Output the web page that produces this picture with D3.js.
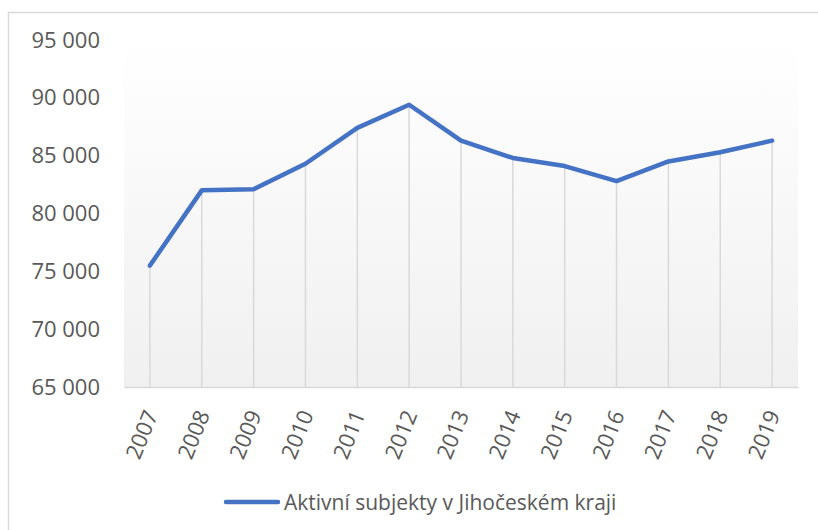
<!DOCTYPE html>
<html><head><meta charset="utf-8">
<script src="https://cdn.jsdelivr.net/npm/d3@7"></script>
<style>body{margin:0;background:#fff;}svg{display:block;}</style>
</head><body>
<svg id="c" width="818" height="530"></svg>
<script>
const years = ["2007","2008","2009","2010","2011","2012","2013","2014","2015","2016","2017","2018","2019"];
const values = [75500, 82000, 82100, 84300, 87400, 89400, 86300, 84800, 84100, 82800, 84500, 85300, 86300];
const yTicks = [65000, 70000, 75000, 80000, 85000, 90000, 95000];
const seriesName = "Aktivní subjekty v Jihočeském kraji";

(function () {
const svg = d3.select("#c");
const font = "'Open Sans', sans-serif";
const pl = 124, pr = 798, pt = 40, pb = 387;

svg.append("rect").attr("x", 8.5).attr("y", 12.5).attr("width", 900).attr("height", 600)
  .attr("fill", "#fff").attr("stroke", "#d9d9d9").attr("stroke-width", 1.5);

const defs = svg.append("defs");
const g = defs.append("linearGradient").attr("id", "bg").attr("x1", 0).attr("y1", 0).attr("x2", 0).attr("y2", 1);
g.append("stop").attr("offset", "0%").attr("stop-color", "#ffffff");
g.append("stop").attr("offset", "100%").attr("stop-color", "#f0f0f0");

const x = d3.scaleBand().domain(years).range([pl, pr]);
const y = d3.scaleLinear().domain([65000, 95000]).range([pb, pt]);

svg.append("rect").attr("x", pl).attr("y", pt).attr("width", pr - pl).attr("height", pb - pt)
  .attr("fill", "url(#bg)");

svg.append("g").selectAll("line").data(years).join("line")
  .attr("x1", d => x(d) + x.bandwidth() / 2).attr("x2", d => x(d) + x.bandwidth() / 2)
  .attr("y1", (d, i) => y(values[i])).attr("y2", pb)
  .attr("stroke", "#d9d9d9").attr("stroke-width", 1.5);

const xAxis = svg.append("g").attr("transform", `translate(0,${pb})`)
  .call(d3.axisBottom(x).tickSize(0).tickPadding(0));
xAxis.select(".domain").attr("stroke", "#d9d9d9").attr("stroke-width", 1.5);
xAxis.selectAll("text")
  .attr("font-family", font).attr("font-size", 22).attr("fill", "#595959")
  .attr("text-anchor", "end").attr("dy", null).attr("y", 0)
  .attr("transform", "translate(3,25) rotate(-68)")
  .attr("dominant-baseline", "middle");

const yAxis = svg.append("g").attr("transform", `translate(100,0)`)
  .call(d3.axisLeft(y).tickValues(yTicks).tickSize(0).tickPadding(0)
    .tickFormat(d => d3.format(",")(d).replace(/,/g, " ")));
yAxis.select(".domain").remove();
yAxis.selectAll("text").attr("font-family", font).attr("font-size", 22).attr("fill", "#595959");

const line = d3.line().x((d, i) => x(years[i]) + x.bandwidth() / 2).y(d => y(d));
svg.append("path").datum(values).attr("d", line)
  .attr("fill", "none").attr("stroke", "#4472c4").attr("stroke-width", 4.5)
  .attr("stroke-linejoin", "round").attr("stroke-linecap", "round");

const lg = svg.append("g");
lg.append("line").attr("x1", 226).attr("x2", 278).attr("y1", 502).attr("y2", 502)
  .attr("stroke", "#4472c4").attr("stroke-width", 4.5).attr("stroke-linecap", "round");
lg.append("text").attr("x", 284).attr("y", 502).attr("dominant-baseline", "central")
  .attr("font-family", font).attr("font-size", 21).attr("fill", "#595959").text(seriesName);
})();
</script>
</body></html>
